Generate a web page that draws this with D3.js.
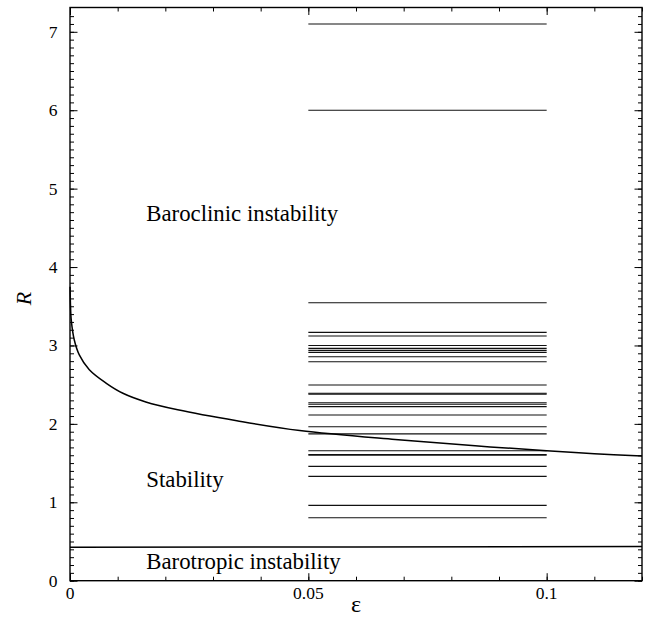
<!DOCTYPE html>
<html>
<head>
<meta charset="utf-8">
<script src="https://cdn.jsdelivr.net/npm/d3@7"></script>
<style>
  html, body { margin: 0; padding: 0; background: #fff; }
  svg { display: block; }
  svg text { font-family: "Liberation Serif", "Times New Roman", Times, serif; }
</style>
</head>
<body>
<svg id="chart" width="654" height="629"></svg>
<script>
// ---- data ----
const xDomain = [0, 0.12];
const yDomain = [0, 7.31];
const xTickValues = [0, 0.05, 0.1];
const xTickLabels = ["0", "0.05", "0.1"];
const yTickValues = [0, 1, 2, 3, 4, 5, 6, 7];
const yTickLabels = ["0", "1", "2", "3", "4", "5", "6", "7"];

// horizontal segments (eps from 0.05 to 0.1)
const segmentStart = 0.05;
const segmentEnd = 0.1;
const segmentR = [7.1, 6.0, 3.545, 3.167, 3.12, 3.0, 2.963, 2.937, 2.912, 2.856, 2.793,
  2.495, 2.39, 2.38, 2.27, 2.25, 2.22, 2.113, 1.964, 1.872, 1.658, 1.61, 1.60,
  1.458, 1.331, 0.961, 0.803];

const curveEps = [0.00002, 0.0001, 0.00027, 0.0009, 0.00195, 0.00405, 0.00755, 0.0111, 0.0159,
  0.0226, 0.035, 0.0482, 0.0682, 0.085, 0.1, 0.11, 0.12];
const curveR = [3.75, 3.52, 3.32, 3.07, 2.88, 2.69, 2.52, 2.39, 2.28,
  2.18, 2.04, 1.915, 1.80, 1.72, 1.658, 1.62, 1.59];

// barotropic boundary
const baroEps = [0, 0.06, 0.12];
const baroR = [0.425, 0.43, 0.435];

const regionLabels = ["Baroclinic instability", "Stability", "Barotropic instability"];
const regionEps = [0.016, 0.016, 0.016];
const regionR = [4.59, 1.2, 0.145];

// ---- layout ----
const FONT = "Liberation Serif, Times New Roman, serif";
const svg = d3.select("#chart");
const margin = {left: 70, right: 12, top: 7.5, bottom: 48.3};
const W = 654, H = 629;
const x = d3.scaleLinear().domain(xDomain).range([margin.left, W - margin.right]);
const y = d3.scaleLinear().domain(yDomain).range([H - margin.bottom, margin.top]);

const g = svg.append("g");

// horizontal segments
g.selectAll("line.seg").data(segmentR).enter().append("line")
  .attr("class", "seg")
  .attr("x1", x(segmentStart)).attr("x2", x(segmentEnd))
  .attr("y1", d => y(d)).attr("y2", d => y(d))
  .attr("stroke", "#111").attr("stroke-width", 1.1);

// curve
const curveData = curveEps.map((e, i) => [e, curveR[i]]);
g.append("path").datum(curveData)
  .attr("d", d3.line().x(d => x(d[0])).y(d => y(d[1])).curve(d3.curveCatmullRom.alpha(0.5)))
  .attr("fill", "none").attr("stroke", "#000").attr("stroke-width", 1.5);

const baroData = baroEps.map((e, i) => [e, baroR[i]]);
g.append("path").datum(baroData)
  .attr("d", d3.line().x(d => x(d[0])).y(d => y(d[1])))
  .attr("fill", "none").attr("stroke", "#000").attr("stroke-width", 1.5);

// axes with inward ticks
const xMinor = d3.range(0, 0.1200001, 0.01);
const yMinor = d3.range(0, 7.3, 0.1);

function addTicks(axisGen, transform) {
  g.append("g").attr("transform", transform).call(axisGen)
    .call(s => s.select(".domain").remove())
    .call(s => s.selectAll("line").attr("stroke", "#000").attr("stroke-width", 1));
}
// bottom
addTicks(d3.axisTop(x).tickValues(xMinor).tickSize(4).tickFormat(""), `translate(0,${y(0)})`);
addTicks(d3.axisTop(x).tickValues(xTickValues).tickSize(7.5).tickFormat(""), `translate(0,${y(0)})`);
// top
addTicks(d3.axisBottom(x).tickValues(xMinor).tickSize(4).tickFormat(""), `translate(0,${margin.top})`);
addTicks(d3.axisBottom(x).tickValues(xTickValues).tickSize(7.5).tickFormat(""), `translate(0,${margin.top})`);
// left
addTicks(d3.axisRight(y).tickValues(yMinor).tickSize(4).tickFormat(""), `translate(${x(0)},0)`);
addTicks(d3.axisRight(y).tickValues(yTickValues).tickSize(7.5).tickFormat(""), `translate(${x(0)},0)`);
// right
addTicks(d3.axisLeft(y).tickValues(yMinor).tickSize(4).tickFormat(""), `translate(${x(0.12)},0)`);
addTicks(d3.axisLeft(y).tickValues(yTickValues).tickSize(7.5).tickFormat(""), `translate(${x(0.12)},0)`);

// frame
g.append("rect")
  .attr("x", x(0)).attr("y", y(yDomain[1]))
  .attr("width", x(0.12) - x(0)).attr("height", y(0) - y(yDomain[1]))
  .attr("fill", "none").attr("stroke", "#000").attr("stroke-width", 1.4);

// tick labels
g.selectAll("text.xl").data(xTickValues).enter().append("text")
  .attr("x", d => x(d)).attr("y", y(0) + 18)
  .attr("font-family", FONT)
  .attr("text-anchor", "middle").attr("font-size", 17.5).attr("fill", "#000")
  .text((d, i) => xTickLabels[i]);
g.selectAll("text.yl").data(yTickValues).enter().append("text")
  .attr("x", x(0) - 12.5).attr("y", d => y(d) + 6)
  .attr("font-family", FONT)
  .attr("text-anchor", "end").attr("font-size", 17.5).attr("fill", "#000")
  .text((d, i) => yTickLabels[i]);

// axis titles
g.append("text").attr("x", x(0.06)).attr("y", 612)
  .attr("font-family", FONT)
  .attr("text-anchor", "middle").attr("font-size", 24).text("ε");
g.append("text").attr("transform", `translate(31,${y(3.6)}) rotate(-90)`)
  .attr("font-family", FONT)
  .attr("text-anchor", "middle").attr("font-size", 22).attr("font-style", "italic").text("R");

// region labels
g.selectAll("text.reg").data(regionLabels).enter().append("text")
  .attr("x", (d, i) => x(regionEps[i])).attr("y", (d, i) => y(regionR[i]))
  .attr("font-family", FONT)
  .attr("font-size", 22.8).attr("fill", "#000")
  .text(d => d);
</script>
</body>
</html>
